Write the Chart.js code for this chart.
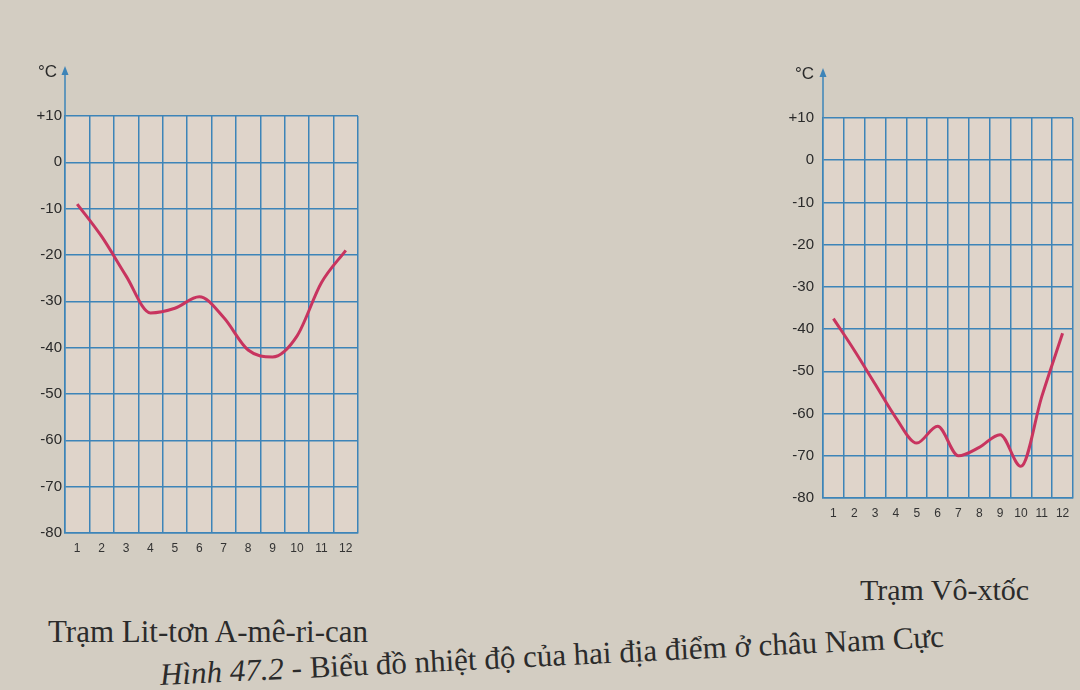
<!DOCTYPE html>
<html>
<head>
<meta charset="utf-8">
<script src="https://cdn.jsdelivr.net/npm/chart.js@4"></script>
<style>
  body { margin: 0; width: 1080px; height: 690px; overflow: hidden; background: #d3cdc2; position: relative; font-family: "Liberation Sans", Arial, sans-serif; }
  .box { position: absolute; }
  .unit { position: absolute; font-size: 17px; color: #2a2a2a; }
  .cap { position: absolute; font-family: "Liberation Serif", "DejaVu Serif", serif; color: #2b2b2b; font-size: 30px; white-space: nowrap; line-height: 36px; }
</style>
</head>
<body>
<div class="box" style="left:0;top:0;width:380px;height:560px"><canvas id="litton"></canvas></div>
<div class="box" style="left:760px;top:0;width:320px;height:530px"><canvas id="vostok"></canvas></div>
<div class="unit" style="left:38px;top:62px">°C</div>
<div class="unit" style="left:795px;top:64px">°C</div>
<div class="cap" style="left:860px;top:572px">Trạm Vô-xtốc</div>
<div class="cap" style="left:48px;top:614px;font-size:31px">Trạm Lit-tơn A-mê-ri-can</div>
<div class="cap" style="left:160px;top:657px;font-size:31px;transform:rotate(-2.8deg);transform-origin:left center"><i>Hình 47.2</i> - Biểu đồ nhiệt độ của hai địa điểm ở châu Nam Cực</div>
<script>
// months along the bottom, temperatures in degrees C
var months = ['1', '2', '3', '4', '5', '6', '7', '8', '9', '10', '11', '12'];
var littonTemps = [-9, -16, -24.5, -32.5, -31.5, -29, -33.5, -40.5, -42, -37.5, -26, -19];
var vostokTemps = [-37.5, -45, -53, -61, -67, -63, -70, -68, -65, -72.5, -56, -41];
var yMin = -80, yMax = 10, yStep = 10;

var gridBlue = '#3d84b8';
var lineRed = '#c8345f';

// paper-ish fill inside the grid + the arrow on top of the y axis
var paperAndArrow = {
    id: 'paperAndArrow',
    beforeDraw: function(chart) {
        var a = chart.chartArea, ctx = chart.ctx;
        ctx.save();
        ctx.fillStyle = '#dfd4ca';
        ctx.fillRect(a.left, a.top, a.right - a.left, a.bottom - a.top);
        ctx.restore();
    },
    afterDraw: function(chart) {
        var a = chart.chartArea, ctx = chart.ctx;
        ctx.save();
        ctx.strokeStyle = gridBlue;
        ctx.lineWidth = 1.5;
        ctx.beginPath();
        ctx.moveTo(a.left, a.top);
        ctx.lineTo(a.left, a.top - 44);
        ctx.stroke();
        ctx.fillStyle = gridBlue;
        ctx.beginPath();
        ctx.moveTo(a.left, a.top - 50);
        ctx.lineTo(a.left - 3.5, a.top - 41);
        ctx.lineTo(a.left + 3.5, a.top - 41);
        ctx.closePath();
        ctx.fill();
        ctx.restore();
    }
};

function makeChart(id, temps, yWidth, yPad, xHeight, pad) {
    return new Chart(document.getElementById(id).getContext('2d'), {
        type: 'line',
        data: {
            labels: months,
            datasets: [{
                data: temps,
                borderColor: lineRed,
                borderWidth: 3,
                pointRadius: 0,
                cubicInterpolationMode: 'monotone'
            }]
        },
        options: {
            responsive: true,
            maintainAspectRatio: false,
            animation: false,
            layout: { padding: pad },
            plugins: { legend: { display: false }, tooltip: { enabled: false } },
            scales: {
                x: {
                    offset: true,
                    grid: { offset: true, color: gridBlue, lineWidth: 1.5, drawTicks: false },
                    border: { color: gridBlue, width: 1.5 },
                    ticks: { color: '#333', font: { size: 12, family: 'Liberation Sans' }, padding: 8, maxRotation: 0, autoSkip: false },
                    afterFit: function(s) { s.height = xHeight; }
                },
                y: {
                    min: yMin,
                    max: yMax,
                    grid: { color: gridBlue, lineWidth: 1.5, drawTicks: false },
                    border: { color: gridBlue, width: 1.5 },
                    ticks: {
                        stepSize: yStep,
                        color: '#2a2a2a',
                        padding: yPad,
                        font: { size: 15, family: 'Liberation Sans' },
                        callback: function(v) { return v > 0 ? '+' + v : v; }
                    },
                    afterFit: function(s) { s.width = yWidth; }
                }
            }
        },
        plugins: [paperAndArrow]
    });
}

makeChart('litton', littonTemps, 65, 3, 27, { top: 116, right: 22, left: 0, bottom: 0 });
makeChart('vostok', vostokTemps, 63, 9, 32, { top: 118, right: 7, left: 0, bottom: 0 });
</script>
</body>
</html>
